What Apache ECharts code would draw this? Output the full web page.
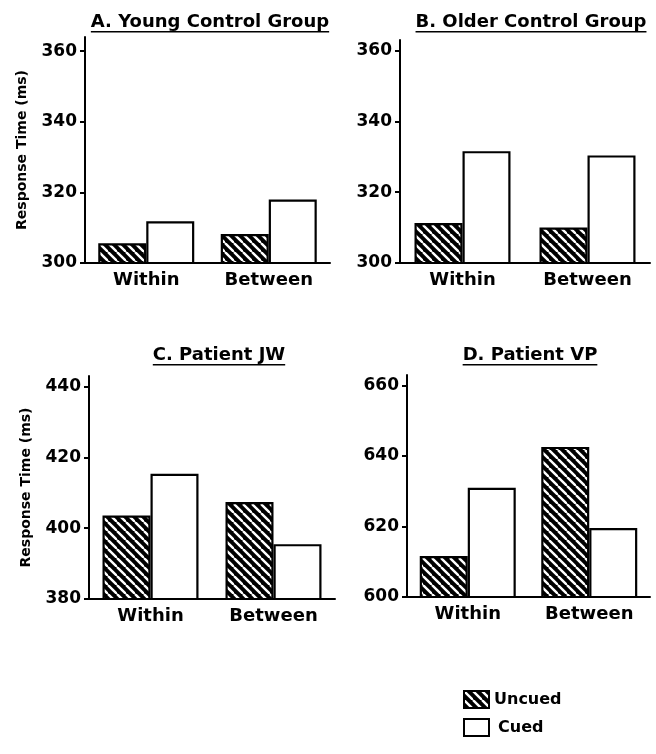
<!DOCTYPE html>
<html><head><meta charset="utf-8">
<script src="https://cdn.jsdelivr.net/npm/echarts@6/dist/echarts.min.js"></script>
<style>html,body{margin:0;padding:0;background:#fff}#c{width:656px;height:754px}</style>
</head><body><div id="c"></div>
<script>
// ---- data ----
const categories = ['Within', 'Between'];
const seriesNames = ['Uncued', 'Cued'];
const panelTitles = ['A. Young Control Group', 'B. Older Control Group', 'C. Patient JW', 'D. Patient VP'];
const yAxisName = 'Response Time (ms)';
const youngUncued = [305.6, 308.2];
const youngCued = [311.8, 318.0];
const olderUncued = [311.3, 310.0];
const olderCued = [331.6, 330.4];
const jwUncued = [403.6, 407.4];
const jwCued = [415.4, 395.5];
const vpUncued = [611.6, 642.6];
const vpCued = [631.0, 619.6];
const ticksControl = [300, 320, 340, 360];
const ticksJW = [380, 400, 420, 440];
const ticksVP = [600, 620, 640, 660];

// ---- layout ----
const FONT = '"DejaVu Sans", sans-serif';
const panels = [
  {title: panelTitles[0], uncued: youngUncued, cued: youngCued, ticks: ticksControl, max: 364, grid: {left: 85, top: 37, width: 245, height: 226}, tx: 210, ty: 22, yname: true},
  {title: panelTitles[1], uncued: olderUncued, cued: olderCued, ticks: ticksControl, max: 363, grid: {left: 400, top: 40, width: 250, height: 223}, tx: 531, ty: 22, yname: false},
  {title: panelTitles[2], uncued: jwUncued, cued: jwCued, ticks: ticksJW, max: 443, grid: {left: 89, top: 376, width: 246, height: 223}, tx: 219, ty: 355, yname: true},
  {title: panelTitles[3], uncued: vpUncued, cued: vpCued, ticks: ticksVP, max: 663, grid: {left: 407, top: 375, width: 243, height: 222}, tx: 530, ty: 355, yname: false}
];

function hatch() {
  const s = 9;
  const c = document.createElement('canvas');
  c.width = s; c.height = s;
  const x = c.getContext('2d');
  x.fillStyle = '#000'; x.fillRect(0, 0, s, s);
  x.strokeStyle = '#fff'; x.lineWidth = 2.4;
  for (const k of [-s, 0, s]) { x.beginPath(); x.moveTo(k, 0); x.lineTo(k + s, s); x.stroke(); }
  return c;
}
const hatchFill = {image: hatch(), repeat: 'repeat'};

function measure(text, font) {
  const c = document.createElement('canvas').getContext('2d');
  c.font = font;
  return c.measureText(text).width;
}

const chart = echarts.init(document.getElementById('c'), null, {renderer: 'canvas'});
const grid = [], xAxis = [], yAxis = [], series = [], graphic = [];
const titleFont = 'bold 18px "DejaVu Sans"';
panels.forEach((p, i) => {
  grid.push(Object.assign({containLabel: false}, p.grid));
  xAxis.push({
    type: 'category', gridIndex: i, data: categories,
    axisLine: {lineStyle: {color: '#000', width: 2}},
    axisTick: {show: false},
    axisLabel: {color: '#000', fontFamily: FONT, fontWeight: 'bold', fontSize: 18, margin: 8}
  });
  yAxis.push({
    type: 'value', gridIndex: i, min: p.ticks[0], max: p.max,
    name: p.yname ? yAxisName : '', nameLocation: 'middle', nameRotate: 90, nameGap: 56,
    nameTextStyle: {color: '#000', fontFamily: FONT, fontWeight: 'bold', fontSize: 14},
    axisLine: {show: true, lineStyle: {color: '#000', width: 2}},
    axisTick: {show: true, length: 5, lineStyle: {color: '#000', width: 2}, customValues: p.ticks},
    axisLabel: {color: '#000', fontFamily: FONT, fontWeight: 'bold', fontSize: 17, margin: 8, customValues: p.ticks},
    splitLine: {show: false}
  });
  series.push({
    name: seriesNames[0], type: 'bar', xAxisIndex: i, yAxisIndex: i, data: p.uncued,
    barWidth: 48, barGap: '0%',
    itemStyle: {color: hatchFill, borderColor: '#000', borderWidth: 2.2}
  });
  series.push({
    name: seriesNames[1], type: 'bar', xAxisIndex: i, yAxisIndex: i, data: p.cued,
    barWidth: 48, barGap: '0%',
    itemStyle: {color: '#fff', borderColor: '#000', borderWidth: 2.2}
  });
  const w = measure(p.title, titleFont);
  graphic.push({type: 'text', x: p.tx, y: p.ty, style: {text: p.title, font: titleFont, fill: '#000', align: 'center', verticalAlign: 'middle'}});
  graphic.push({type: 'rect', shape: {x: p.tx - w / 2, y: p.ty + 9, width: w, height: 1.5}, style: {fill: '#000'}});
});

chart.setOption({
  animation: false,
  backgroundColor: '#fff',
  grid, xAxis, yAxis, series, graphic,
  legend: {
    data: [{name: seriesNames[0]}, {name: seriesNames[1], textStyle: {padding: [0, 0, 0, 4]}}],
    orient: 'vertical', left: 463, top: 690, padding: 0,
    icon: 'rect', itemWidth: 25, itemHeight: 17, itemGap: 9,
    textStyle: {color: '#000', fontFamily: FONT, fontWeight: 'bold', fontSize: 16}
  }
});
</script>
</body></html>
